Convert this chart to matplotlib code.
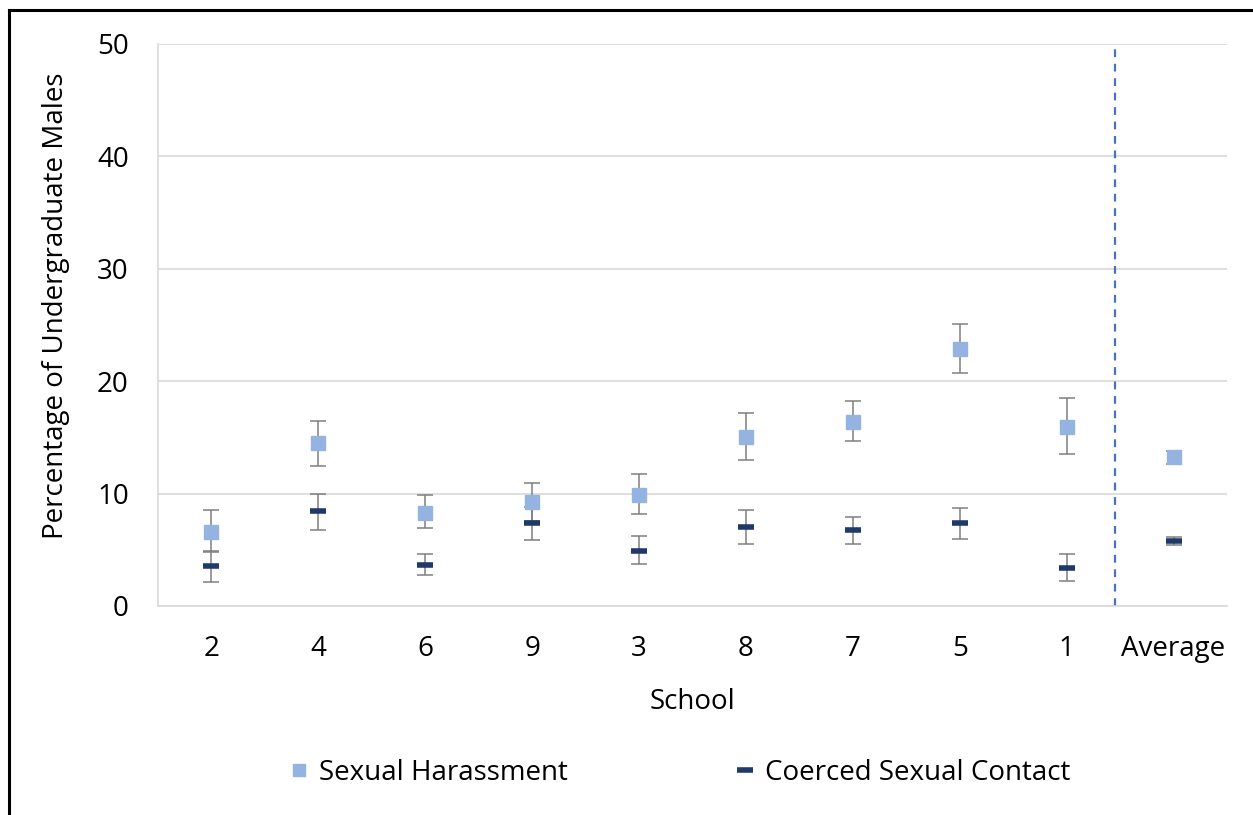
import matplotlib.pyplot as plt
import numpy as np
from matplotlib.lines import Line2D

plt.rcParams['font.family'] = ['Open Sans', 'DejaVu Sans']

schools = ['2', '4', '6', '9', '3', '8', '7', '5', '1', 'Average']

# sexual harassment: point, lower bound, upper bound
harass = [6.6, 14.5, 8.3, 9.25, 9.9, 15.05, 16.4, 22.9, 15.95, 13.25]
harass_lo = [4.8, 12.5, 6.9, 7.6, 8.15, 12.95, 14.65, 20.7, 13.5, 12.6]
harass_hi = [8.5, 16.45, 9.85, 10.9, 11.7, 17.15, 18.2, 25.1, 18.5, 13.8]

# coerced sexual contact
coerced = [3.55, 8.45, 3.65, 7.35, 4.9, 7.05, 6.75, 7.4, 3.4, 5.8]
coerced_lo = [2.1, 6.8, 2.8, 5.85, 3.7, 5.5, 5.55, 6.0, 2.2, 5.45]
coerced_hi = [4.9, 9.95, 4.6, 8.8, 6.2, 8.5, 7.9, 8.7, 4.6, 6.15]

light = '#95b3e0'
dark = '#1f3a68'

x = np.arange(len(schools))
harass = np.array(harass)
coerced = np.array(coerced)
h_err = [harass - np.array(harass_lo), np.array(harass_hi) - harass]
c_err = [coerced - np.array(coerced_lo), np.array(coerced_hi) - coerced]

fig = plt.figure(figsize=(12.53, 8.15), dpi=100)
ax = fig.add_axes([158 / 1253, 1 - 606 / 815, (1227 - 158) / 1253, (606 - 44) / 815])

err_kw = dict(fmt='none', ecolor='#7f7f7f', elinewidth=1.1, capsize=6, capthick=1.1)
ax.errorbar(x, harass, yerr=h_err, zorder=3, **err_kw)
ax.errorbar(x, coerced, yerr=c_err, zorder=3, **err_kw)
ax.plot(x, harass, 's', color=light, markersize=9.5, linestyle='none', zorder=4)
ax.plot(x, coerced, '_', color=dark, markersize=11, markeredgewidth=4, linestyle='none', zorder=5)

ax.axvline(8.45, color='#4472c4', linestyle=(0, (3.5, 3)), linewidth=1.6, zorder=2)

ax.set_xlim(-0.5, 9.5)
ax.set_ylim(0, 50)
ax.set_yticks([0, 10, 20, 30, 40, 50])
ax.set_xticks(x)
ax.set_xticklabels(schools)
ax.grid(axis='y', color='#d9d9d9', linewidth=1.2)
ax.set_axisbelow(True)
for side in ['top', 'right']:
    ax.spines[side].set_visible(False)
for side in ['left', 'bottom']:
    ax.spines[side].set_color('#d9d9d9')
    ax.spines[side].set_linewidth(1.2)
ax.tick_params(length=0, labelsize=20, colors='#000000')
ax.tick_params(axis='y', pad=21)
ax.tick_params(axis='x', pad=21)

ax.set_xlabel('School', fontsize=20, labelpad=18)
ax.set_ylabel('Percentage of Undergraduate Males', fontsize=20, labelpad=18)
ax.yaxis.set_label_coords(-0.082, 0.534)

handles = [Line2D([], [], marker='s', color=light, linestyle='none', markersize=9),
           Line2D([], [], marker='_', color=dark, linestyle='none', markersize=11,
                  markeredgewidth=4)]
fig.legend(handles, ['Sexual Harassment', 'Coerced Sexual Contact'], loc='center',
           bbox_to_anchor=(0.542, 1 - 773 / 815), ncol=2, frameon=False, fontsize=20,
           handlelength=0.8, handletextpad=0.3, columnspacing=6.0)

# border on the left and top edges
fig.add_artist(Line2D([8.5 / 1253, 8.5 / 1253], [0, 1 - 10 / 815], color='black', linewidth=2.2))
fig.add_artist(Line2D([8.5 / 1253, 1], [1 - 10 / 815, 1 - 10 / 815], color='black', linewidth=2.2))

fig.savefig('out.png', dpi=100)
